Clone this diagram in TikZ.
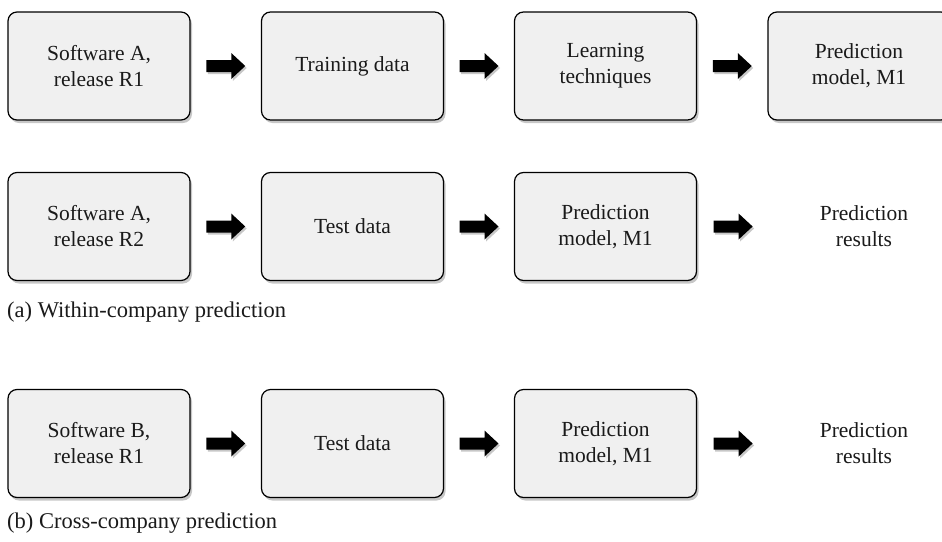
\documentclass[tikz,border=0pt]{standalone}
\usepackage{fontspec}
\setmainfont{Liberation Serif}
\usetikzlibrary{shadows,calc}
\definecolor{boxfill}{HTML}{F0F0F0}
\definecolor{ink}{HTML}{1A1A1A}
\tikzset{
  procbox/.style={rectangle, rounded corners=9pt, draw=black, line width=1.2pt,
    fill=boxfill, minimum width=182pt, minimum height=108pt, align=center,
    text=ink, font=\fontsize{21.5}{26}\selectfont,
    drop shadow={shadow xshift=2pt, shadow yshift=-3pt, fill=black, opacity=0.22}},
  plaintext/.style={align=center, text=ink, font=\fontsize{21.5}{26}\selectfont},
  flowarrow/.style={fill=black, draw=none,
    drop shadow={shadow xshift=1.5pt, shadow yshift=-2pt, fill=black, opacity=0.22}},
  caption/.style={anchor=base west, inner sep=0pt, text=ink,
    font=\fontsize{22.5}{26}\selectfont}
}
% block arrow centred on a named coordinate
\newcommand{\blockarrowat}[1]{%
  \path[flowarrow, shift={(#1)}] (-19.5,-6) -- (5.5,-6) -- (5.5,-13) -- (19.5,0)
    -- (5.5,13) -- (5.5,6) -- (-19.5,6) -- cycle;}
\newcommand{\flowbetween}[3]{%
  \coordinate (#1) at ($(#2.east)!0.5!(#3.west)$);
  \blockarrowat{#1}}
\begin{document}
\begin{tikzpicture}[x=1pt,y=-1pt]
\useasboundingbox (0,0) rectangle (942,541);
\clip (0,0) rectangle (942,541);
\fill[white] (0,0) rectangle (942,541);

% (a) first row: building the model
\node[procbox] (a1) at (99,66)    {Software A,\\release R1};
\node[procbox] (a2) at (352.5,66) {Training data};
\node[procbox] (a3) at (605.5,66) {Learning\\techniques};
\node[procbox] (a4) at (859,66)   {Prediction\\model, M1};
\flowbetween{fa1}{a1}{a2}
\flowbetween{fa2}{a2}{a3}
\flowbetween{fa3}{a3}{a4}

% (a) second row: applying the model
\node[procbox] (b1) at (99,226.5)    {Software A,\\release R2};
\node[procbox] (b2) at (352.5,226.5) {Test data};
\node[procbox] (b3) at (605.5,226.5) {Prediction\\model, M1};
\node[plaintext] (b4) at (864,226.5) {Prediction\\results};
\flowbetween{fb1}{b1}{b2}
\flowbetween{fb2}{b2}{b3}
\coordinate (fb3) at ($(b3.east)+(36,0)$);
\blockarrowat{fb3}

\node[caption] (capa) at (7,317) {(a) Within-company prediction};

% (b) cross-company prediction
\node[procbox] (c1) at (99,443.5)    {Software B,\\release R1};
\node[procbox] (c2) at (352.5,443.5) {Test data};
\node[procbox] (c3) at (605.5,443.5) {Prediction\\model, M1};
\node[plaintext] (c4) at (864,443.5) {Prediction\\results};
\flowbetween{fc1}{c1}{c2}
\flowbetween{fc2}{c2}{c3}
\coordinate (fc3) at ($(c3.east)+(36,0)$);
\blockarrowat{fc3}

\node[caption] (capb) at (7,528) {(b) Cross-company prediction};
\end{tikzpicture}
\end{document}
